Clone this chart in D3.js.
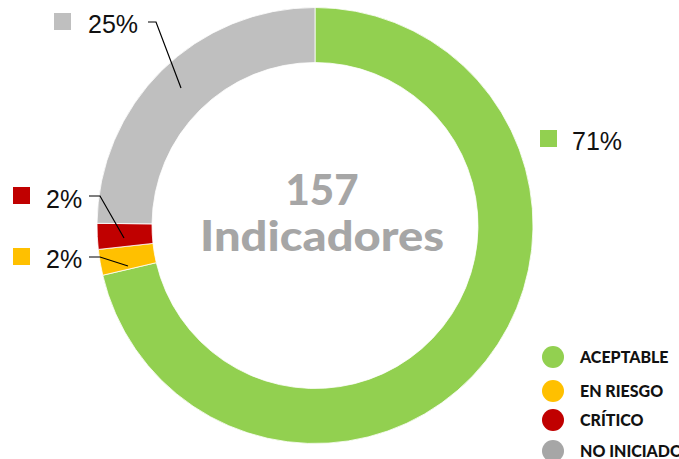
<!DOCTYPE html>
<html><head><meta charset="utf-8">
<script src="https://cdn.jsdelivr.net/npm/d3@7"></script>
<style>body{margin:0;background:#fff;overflow:hidden}svg{display:block}</style>
</head><body>
<svg id="c" width="679" height="459"></svg>
<script>
const categories = ["ACEPTABLE", "EN RIESGO", "CRÍTICO", "NO INICIADO"];
const counts = [112, 3, 3, 39];
const percentLabels = ["71%", "2%", "2%", "25%"];
const sliceColors = ["#92d050", "#ffc000", "#c00000", "#bfbfbf"];
const legendColors = ["#92d050", "#ffc000", "#c00000", "#a6a6a6"];
const centerLines = ["157", "Indicadores"];

const svg = d3.select("#c");
const cx = 315, cy = 225.5, rOuter = 218, rInner = 163;
const g = svg.append("g").attr("transform", `translate(${cx},${cy})`);
const pie = d3.pie().sort(null).value(d => d)(counts);
const arc = d3.arc().innerRadius(rInner).outerRadius(rOuter);
g.selectAll("path").data(pie).join("path")
  .attr("d", arc).attr("fill", (d, i) => sliceColors[i])
  .attr("stroke", "#fff").attr("stroke-width", 0.8);

const labelPos = [
  {sx: 540, sy: 130, tx: 572, ty: 150, line: null},
  {sx: 13, sy: 248, tx: 46, ty: 268, line: [[89, 257], [100, 257], [128, 266]]},
  {sx: 13, sy: 187, tx: 46, ty: 208, line: [[89, 196], [100, 196], [124, 238]]},
  {sx: 54, sy: 13, tx: 88, ty: 33, line: [[148, 22], [156, 22], [181, 88]]}
];
labelPos.forEach((p, i) => {
  svg.append("rect").attr("x", p.sx).attr("y", p.sy).attr("width", 17).attr("height", 17).attr("fill", sliceColors[i]);
  svg.append("text").attr("x", p.tx).attr("y", p.ty).text(percentLabels[i])
    .attr("font-family", "Liberation Sans, Arial, sans-serif").attr("font-size", 25).attr("fill", "#111");
  if (p.line) svg.append("path").attr("d", d3.line()(p.line)).attr("fill", "none").attr("stroke", "#000").attr("stroke-width", 1.2);
});

svg.append("text").attr("x", 322).attr("y", 205).attr("text-anchor", "middle").text(centerLines[0])
  .attr("font-family", "Lato, sans-serif").attr("font-weight", 900).attr("font-size", 42).attr("fill", "#a6a6a6");
svg.append("text").attr("x", 322).attr("y", 251).attr("text-anchor", "middle").text(centerLines[1])
  .attr("font-family", "Lato, sans-serif").attr("font-weight", 900).attr("font-size", 42).attr("fill", "#a6a6a6")
  .attr("textLength", 244).attr("lengthAdjust", "spacingAndGlyphs");

const legY = [357, 391, 420, 451];
categories.forEach((c, i) => {
  svg.append("circle").attr("cx", 553).attr("cy", legY[i]).attr("r", 11).attr("fill", legendColors[i]);
  svg.append("text").attr("x", 580).attr("y", legY[i] + 6).text(c)
    .attr("font-family", "Lato, sans-serif").attr("font-weight", 900).attr("font-size", 16).attr("fill", "#111");
});
</script>
</body></html>
